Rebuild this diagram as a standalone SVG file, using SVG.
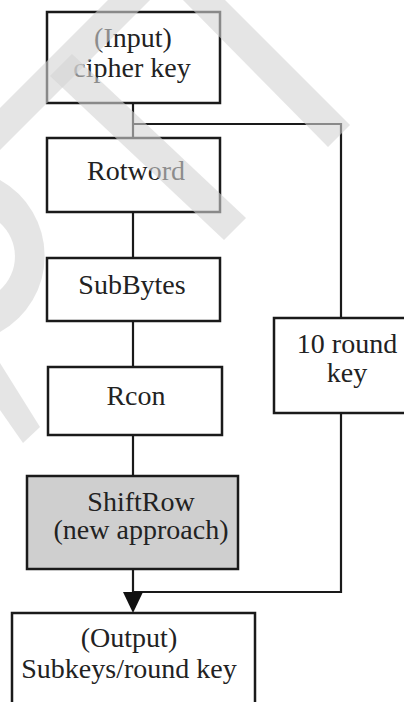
<svg xmlns="http://www.w3.org/2000/svg" width="404" height="702" viewBox="0 0 404 702">
<style>
.box{fill:#ffffff;stroke:#1a1a1a;stroke-width:2.5}
.grey{fill:#cfcfcf}
.lbl{font-size:28px;fill:#222;text-anchor:middle}
.wire{fill:none;stroke:#1a1a1a;stroke-width:2.2}
.wm{fill:#d4d4d4;opacity:0.6}
</style>
<rect width="404" height="702" fill="#ffffff"/>
<g id="connectors">
<path class="wire" d="M133,103 V138"/>
<path class="wire" d="M133,124 H341 V318"/>
<path class="wire" d="M133,212 V258"/>
<path class="wire" d="M133,321 V367"/>
<path class="wire" d="M133,435 V476"/>
<path class="wire" d="M341,413 V592 H133"/>
<path class="wire" d="M133,569 V592"/>
<path d="M123,592 L143,592 L133,613 Z" fill="#111"/>
</g>
<g font-family="'Liberation Serif', 'Times New Roman', 'DejaVu Serif', serif">
<g id="input">
<rect class="box" x="47" y="12" width="173" height="91"/>
<text class="lbl" x="133" y="47">(Input)</text>
<text class="lbl" x="132" y="77">cipher key</text>
</g>
<g id="rotword">
<rect class="box" x="47" y="138" width="173" height="74"/>
<text class="lbl" x="136" y="180">Rotword</text>
</g>
<g id="subbytes">
<rect class="box" x="47" y="258" width="173" height="63"/>
<text class="lbl" x="132" y="294">SubBytes</text>
</g>
<g id="rcon">
<rect class="box" x="48" y="367" width="174" height="68"/>
<text class="lbl" x="136" y="405">Rcon</text>
</g>
<g id="shiftrow">
<rect class="box grey" x="27" y="476" width="211" height="93"/>
<text class="lbl" x="141" y="511">ShiftRow</text>
<text class="lbl" x="141" y="539">(new approach)</text>
</g>
<g id="roundkey">
<rect class="box" x="274" y="318" width="140" height="95"/>
<text class="lbl" x="347" y="353">10 round</text>
<text class="lbl" x="347" y="382">key</text>
</g>
<g id="output">
<rect class="box" x="12" y="613" width="243" height="110"/>
<text class="lbl" x="129" y="647">(Output)</text>
<text class="lbl" x="129" y="678">Subkeys/round key</text>
</g>
</g>
<g id="watermark">
<polygon class="wm" points="108,0 150,0 0,150 0,108"/>
<polygon class="wm" points="50,76 72,54 246,218 224,240"/>
<polygon class="wm" points="183,0 225,0 350,125 328,147"/>
<path class="wm" fill-rule="evenodd" d="M0,180 A87,87 0 0 1 0,332 Z M0,223 A45,45 0 0 1 0,290 Z"/>
<polygon class="wm" points="0,363 40,427 23,443 0,410"/>
</g>
</svg>
